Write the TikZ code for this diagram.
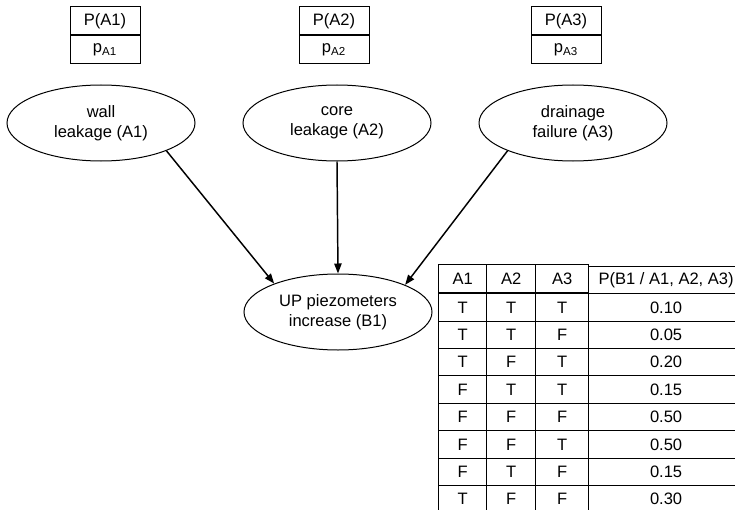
\documentclass[tikz,border=0pt]{standalone}
\usepackage{fontspec}
\setmainfont{Liberation Sans}
\usetikzlibrary{arrows.meta, positioning, matrix, shapes.geometric}

\begin{document}
\begin{tikzpicture}[x=0.75pt, y=-0.75pt,
      every node/.style={font=\fontsize{12.4}{15}\selectfont},
      event/.style={draw, ellipse, line width=0.75pt, inner sep=0pt,
          minimum width=141pt, minimum height=57pt, align=center},
      prob/.style={draw, line width=0.75pt, inner sep=0pt,
          minimum width=52.5pt, minimum height=21pt},
      link/.style={-{Triangle[length=7.5pt, width=5.5pt]}, line width=1.1pt}]
    \useasboundingbox (0,0) rectangle (735,510);

    % prior probabilities
    \node[prob] (PA1) at (105,21) {P(A1)};
    \node[prob, below=0pt of PA1] (pA1) {p\textsubscript{A1}};
    \node[prob] (PA2) at (334,21) {P(A2)};
    \node[prob, below=0pt of PA2] (pA2) {p\textsubscript{A2}};
    \node[prob] (PA3) at (566,21) {P(A3)};
    \node[prob, below=0pt of PA3] (pA3) {p\textsubscript{A3}};

    % causes and effect
    \node[event] (A1) at (101,123) {wall\\leakage (A1)};
    \node[event] (A2) at (337,123) {core\\leakage (A2)};
    \node[event] (A3) at (573,123) {drainage\\failure (A3)};
    \node[event] (B1) at (338,312) {UP piezometers\\increase (B1)};

    \draw[link] (A1.-23) -- (B1.156);
    \draw[link] (A2.south) -- (B1.north);
    \draw[link] (A3.-157) -- (B1.22);

    % conditional probability table (runs off the right edge)
    \matrix (cpt) [matrix of nodes, anchor=north west, inner sep=0pt,
          row sep=-0.75pt, column sep=-0.75pt,
          nodes={draw, line width=0.75pt, inner sep=0pt, minimum height=20.55pt},
          column 1/.style={nodes={minimum width=36pt}},
          column 2/.style={nodes={minimum width=36.75pt}},
          column 3/.style={nodes={minimum width=39.75pt}},
          column 4/.style={nodes={minimum width=116pt}}]
          at (438,264) {
      A1 & A2 & A3 & P(B1 / A1, A2, A3) \\
      T & T & T & 0.10 \\
      T & T & F & 0.05 \\
      T & F & T & 0.20 \\
      F & T & T & 0.15 \\
      F & F & F & 0.50 \\
      F & F & T & 0.50 \\
      F & T & F & 0.15 \\
      T & F & F & 0.30 \\
    };
  \end{tikzpicture}
\end{document}
